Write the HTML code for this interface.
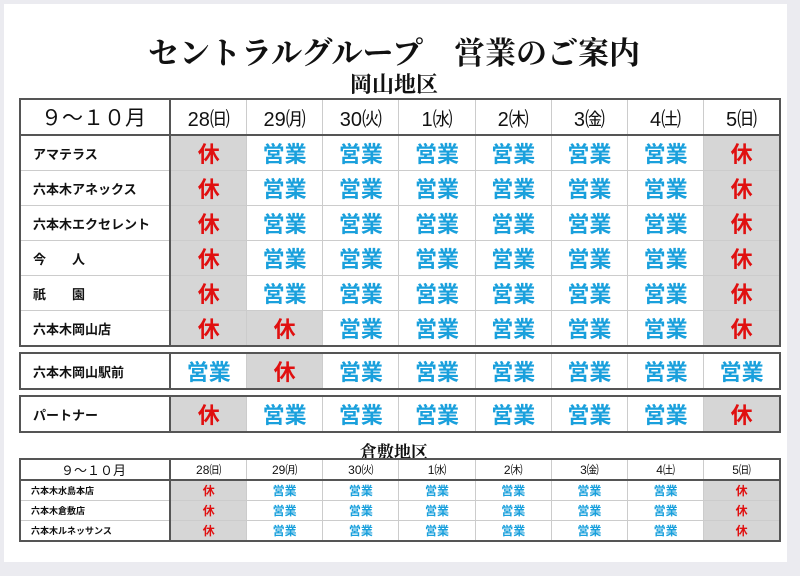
<!DOCTYPE html>
<html><head><meta charset="utf-8"><style>
body{margin:0;width:800px;height:576px;background:#ebebf0;position:relative;overflow:hidden;font-family:"Liberation Sans","Noto Sans CJK JP",sans-serif}
.card{position:absolute;left:4px;top:4px;width:783px;height:558px;background:#fff}
.t{position:absolute;left:19px;border-collapse:collapse;table-layout:fixed;border:2px solid #555}
.t td{border:1px solid #ccc;text-align:center;padding:0;overflow:hidden;white-space:nowrap}
.t td:first-child{border-right:2px solid #555;text-align:left;padding-left:12px;font-weight:bold;font-size:13px;color:#111}
.b td{height:34px;font-size:22px;font-weight:bold}
.s td{height:19px;font-size:12px;font-weight:bold}
.s td:first-child{font-size:9px;padding-left:10px}
.o{color:#1aa0dc}.h{color:#e01010;background:#d6d6d6}.r{color:#e01010}
.hd td{color:#111;font-weight:normal}
.b .hd td{font-size:20px}
.ttl{position:absolute;font-family:"Noto Serif CJK SC","Liberation Serif",serif;font-weight:bold;color:#111;white-space:nowrap}
</style></head><body>
<div class="card"></div>
<div class="ttl" style="left:148px;top:28px;font-size:31px">セントラルグループ　営業のご案内</div>
<div class="ttl" style="left:350px;top:68px;font-size:22px">岡山地区</div>
<table class="t b" style="top:98px;width:762px">
<colgroup><col style="width:150px"><col span="8" style="width:76px"></colgroup>
<tr class="hd"><td style="font-size:21px;padding-left:20px;font-weight:normal;border-bottom:2px solid #555">９～１０月</td><td class="r" style="border-bottom:2px solid #555">28㈰</td><td style="border-bottom:2px solid #555">29㈪</td><td style="border-bottom:2px solid #555">30㈫</td><td style="border-bottom:2px solid #555">1㈬</td><td style="border-bottom:2px solid #555">2㈭</td><td style="border-bottom:2px solid #555">3㈮</td><td style="border-bottom:2px solid #555">4㈯</td><td class="r" style="border-bottom:2px solid #555">5㈰</td></tr>
<tr><td>アマテラス</td><td class="h">休</td><td class="o">営業</td><td class="o">営業</td><td class="o">営業</td><td class="o">営業</td><td class="o">営業</td><td class="o">営業</td><td class="h">休</td></tr>
<tr><td>六本木アネックス</td><td class="h">休</td><td class="o">営業</td><td class="o">営業</td><td class="o">営業</td><td class="o">営業</td><td class="o">営業</td><td class="o">営業</td><td class="h">休</td></tr>
<tr><td>六本木エクセレント</td><td class="h">休</td><td class="o">営業</td><td class="o">営業</td><td class="o">営業</td><td class="o">営業</td><td class="o">営業</td><td class="o">営業</td><td class="h">休</td></tr>
<tr><td>今　　人</td><td class="h">休</td><td class="o">営業</td><td class="o">営業</td><td class="o">営業</td><td class="o">営業</td><td class="o">営業</td><td class="o">営業</td><td class="h">休</td></tr>
<tr><td>祇　　園</td><td class="h">休</td><td class="o">営業</td><td class="o">営業</td><td class="o">営業</td><td class="o">営業</td><td class="o">営業</td><td class="o">営業</td><td class="h">休</td></tr>
<tr><td>六本木岡山店</td><td class="h">休</td><td class="h">休</td><td class="o">営業</td><td class="o">営業</td><td class="o">営業</td><td class="o">営業</td><td class="o">営業</td><td class="h">休</td></tr>
</table>
<table class="t b" style="top:352px;width:762px">
<colgroup><col style="width:150px"><col span="8" style="width:76px"></colgroup>
<tr><td>六本木岡山駅前</td><td class="o">営業</td><td class="h">休</td><td class="o">営業</td><td class="o">営業</td><td class="o">営業</td><td class="o">営業</td><td class="o">営業</td><td class="o">営業</td></tr>
</table>
<table class="t b" style="top:395px;width:762px">
<colgroup><col style="width:150px"><col span="8" style="width:76px"></colgroup>
<tr><td>パートナー</td><td class="h">休</td><td class="o">営業</td><td class="o">営業</td><td class="o">営業</td><td class="o">営業</td><td class="o">営業</td><td class="o">営業</td><td class="h">休</td></tr>
</table>
<div class="ttl" style="left:360px;top:438px;font-size:17px">倉敷地区</div>
<table class="t s" style="top:458px;width:762px">
<colgroup><col style="width:150px"><col span="8" style="width:76px"></colgroup>
<tr class="hd"><td style="font-size:13px;padding-left:40px;font-weight:normal;border-bottom:2px solid #555">９～１０月</td><td class="r" style="border-bottom:2px solid #555">28㈰</td><td style="border-bottom:2px solid #555">29㈪</td><td style="border-bottom:2px solid #555">30㈫</td><td style="border-bottom:2px solid #555">1㈬</td><td style="border-bottom:2px solid #555">2㈭</td><td style="border-bottom:2px solid #555">3㈮</td><td style="border-bottom:2px solid #555">4㈯</td><td class="r" style="border-bottom:2px solid #555">5㈰</td></tr>
<tr><td>六本木水島本店</td><td class="h">休</td><td class="o">営業</td><td class="o">営業</td><td class="o">営業</td><td class="o">営業</td><td class="o">営業</td><td class="o">営業</td><td class="h">休</td></tr>
<tr><td>六本木倉敷店</td><td class="h">休</td><td class="o">営業</td><td class="o">営業</td><td class="o">営業</td><td class="o">営業</td><td class="o">営業</td><td class="o">営業</td><td class="h">休</td></tr>
<tr><td>六本木ルネッサンス</td><td class="h">休</td><td class="o">営業</td><td class="o">営業</td><td class="o">営業</td><td class="o">営業</td><td class="o">営業</td><td class="o">営業</td><td class="h">休</td></tr>
</table>
</body></html>
